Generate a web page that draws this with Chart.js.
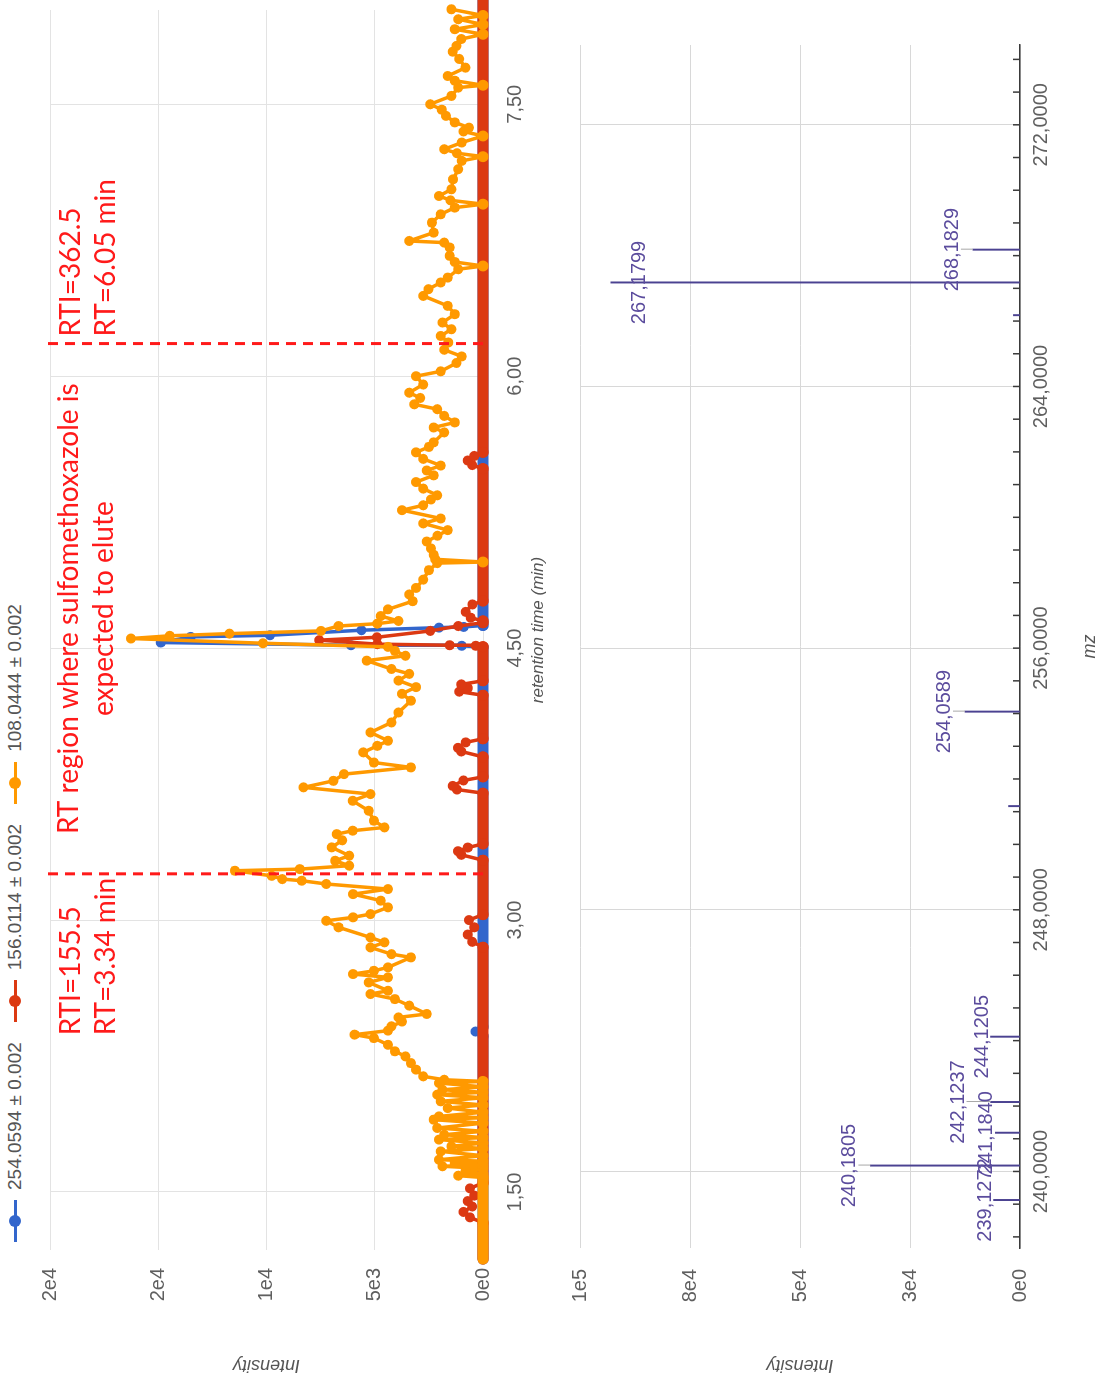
<!DOCTYPE html>
<html lang="en">
<head>
<meta charset="UTF-8">
<title>XIC and spectrum</title>
<script src="https://cdn.jsdelivr.net/npm/chart.js"></script>
<style>
    html, body {
        margin: 0;
        padding: 0;
        background: #ffffff;
        overflow: hidden;
    }
    body {
        width: 1104px;
        height: 1380px;
        position: relative;
        font-family: 'Liberation Sans', Arial, sans-serif;
    }
    /* the whole figure is drawn landscape, then turned a quarter to the left */
    .sheet {
        position: absolute;
        left: 0;
        top: 0;
        width: 1380px;
        height: 1104px;
        transform-origin: 0 0;
        transform: translate(0, 1380px) rotate(-90deg);
    }
    #xicChart { position: absolute; left: 0; top: 0; }
    #specChart { position: absolute; left: 0; top: 560px; }
    .legend {
        position: absolute;
        left: 138px;
        top: 3px;
        display: flex;
        gap: 20px;
        font-size: 19px;
        color: #555;
    }
    .legend .item { display: flex; align-items: center; white-space: nowrap; }
    .mark { position: relative; display: inline-block; width: 42px; height: 24px; margin-right: 10px; }
    .mark::before { content: ''; position: absolute; left: 0; right: 0; top: 10.5px; height: 3px; background: var(--c); }
    .mark::after { content: ''; position: absolute; left: 15px; top: 6px; width: 12px; height: 12px; border-radius: 50%; background: var(--c); }
</style>
</head>
<body>
<div class="sheet">
    <div class="legend" id="legend"></div>
    <canvas id="xicChart" width="1400" height="560"></canvas>
    <canvas id="specChart" width="1380" height="544"></canvas>
</div>

<script>
// ---- extracted ion chromatograms (retention time in min, intensity)
const rtTicks = [1.5, 3.0, 4.5, 6.0, 7.5];
const rtRange = [1.18, 8.02];
const xicTicks = [0, 5000, 10000, 15000, 20000];

const seriesNames = ['254.0594 ± 0.002', '156.0114 ± 0.002', '108.0444 ± 0.002'];

const ion254 = [
    [1.13, 0], [2.36, 0], [2.385, 350], [2.41, 0], [4.505, 0],
    [4.513, 980], [4.516, 6100], [4.531, 14880], [4.562, 13500], [4.571, 9840],
    [4.599, 5610], [4.613, 2030], [4.617, 890], [4.625, 0], [8.12, 0]
];

const ion156 = [
    [1.13, 0], [1.33, 0], [1.36, 600], [1.39, 900], [1.42, 500], [1.45, 700], [1.48, 400], [1.52, 600], [1.55, 0],
    [2.85, 0], [2.88, 500], [2.92, 700], [2.96, 400], [3.0, 650], [3.03, 0],
    [3.33, 0], [3.36, 1000], [3.38, 1150], [3.40, 700], [3.42, 0],
    [3.70, 0], [3.72, 1200], [3.74, 1400], [3.77, 900], [3.79, 0],
    [3.90, 0], [3.93, 1000], [3.95, 1150], [3.98, 800], [4.0, 0],
    [4.24, 0], [4.26, 1100], [4.28, 700], [4.30, 1000], [4.32, 0],
    [4.508, 0], [4.513, 330], [4.516, 1540], [4.522, 4880], [4.544, 7560], [4.56, 4900],
    [4.595, 2440], [4.622, 1140], [4.64, 0],
    [4.65, 0], [4.668, 570], [4.70, 800], [4.741, 490], [4.76, 0],
    [5.49, 0], [5.51, 500], [5.535, 700], [5.56, 400], [5.58, 0],
    [8.12, 0]
];

const ion108 = [
    [1.13, 0], [1.58, 0],
    [1.59, 1140], [1.60, 0], [1.614, 810], [1.63, 0], [1.642, 1870], [1.65, 0], [1.66, 1300], [1.67, 0],
    [1.678, 2030], [1.70, 0], [1.724, 1950], [1.74, 0], [1.752, 1460], [1.77, 0], [1.789, 2030], [1.80, 0],
    [1.816, 1790], [1.835, 0], [1.853, 2110], [1.88, 0], [1.899, 2280], [1.91, 0], [1.917, 2030], [1.94, 0],
    [1.963, 1630], [1.98, 0], [2.00, 1950], [2.02, 0], [2.037, 2110], [2.05, 0], [2.064, 1870], [2.08, 0],
    [2.101, 2030], [2.11, 0], [2.119, 1790],
    [2.138, 2760], [2.175, 3090], [2.211, 3330], [2.248, 3580], [2.276, 4070], [2.312, 4390], [2.349, 5040],
    [2.368, 5930], [2.39, 4390], [2.414, 4230], [2.44, 3740],
    [2.463, 3900], [2.482, 2600], [2.528, 3410], [2.564, 4070], [2.592, 5200], [2.61, 4390], [2.656, 5280],
    [2.684, 4390], [2.702, 6000], [2.72, 5040], [2.739, 4390], [2.794, 3330], [2.812, 4230], [2.849, 5200],
    [2.877, 4550], [2.904, 5200], [2.96, 6670], [2.996, 7240], [3.015, 6000], [3.033, 5200], [3.07, 4390],
    [3.107, 4720], [3.143, 6000], [3.171, 4390], [3.199, 7240], [3.217, 8370], [3.226, 9270], [3.244, 9760],
    [3.272, 11460], [3.281, 8460], [3.30, 6180], [3.327, 6830], [3.355, 6180], [3.401, 6990], [3.44, 6500],
    [3.474, 6750], [3.493, 6020], [3.511, 4550], [3.548, 5040], [3.603, 5280], [3.658, 6020], [3.695, 5200],
    [3.732, 8290], [3.768, 6910], [3.805, 6420], [3.842, 3330], [3.869, 5040], [3.925, 5530], [3.961, 4880],
    [3.989, 4390], [4.035, 5200], [4.09, 4230], [4.145, 3900], [4.21, 3330],
    [4.248, 3740], [4.285, 3090], [4.321, 3900], [4.358, 3410], [4.385, 4230], [4.431, 5370], [4.458, 3580],
    [4.485, 4070], [4.507, 4390], [4.527, 10160], [4.553, 16260], [4.568, 14470], [4.58, 11710], [4.595, 7480],
    [4.622, 6670], [4.635, 4880], [4.65, 3900], [4.677, 4720], [4.714, 4390], [4.759, 3250], [4.796, 3410],
    [4.832, 3090], [4.878, 2760], [4.93, 2500], [4.969, 2110], [4.975, 0], [4.99, 2200], [5.015, 2280],
    [5.05, 2400], [5.088, 2600], [5.12, 2100], [5.151, 1630], [5.188, 2760], [5.215, 1950], [5.261, 3740],
    [5.288, 2760], [5.32, 2400], [5.343, 2110], [5.38, 2760], [5.416, 3090], [5.453, 2280], [5.48, 2600],
    [5.507, 1950], [5.544, 2760], [5.58, 3090], [5.61, 2500], [5.635, 2280], [5.69, 1790], [5.717, 2280],
    [5.745, 1300], [5.781, 1790], [5.818, 2110], [5.845, 3170], [5.88, 2900], [5.909, 3410], [5.954, 2760],
    [6.0, 3090], [6.027, 1950], [6.073, 1220], [6.109, 980], [6.146, 1790], [6.186, 1600],
    [6.222, 1950], [6.259, 1460], [6.296, 1870], [6.342, 1300], [6.388, 1630], [6.443, 2760], [6.48, 2520],
    [6.517, 1950], [6.544, 1630], [6.59, 1140], [6.608, 0], [6.63, 1300], [6.664, 1540], [6.71, 1540],
    [6.737, 1790], [6.746, 3410], [6.792, 2280], [6.847, 2360], [6.893, 1950], [6.93, 1300], [6.949, 0],
    [6.97, 1500], [6.994, 2030], [7.031, 1460], [7.086, 1380], [7.142, 1140], [7.188, 980], [7.211, 0],
    [7.23, 1200], [7.252, 1790], [7.289, 980], [7.325, 0], [7.35, 900], [7.371, 650], [7.40, 1300],
    [7.436, 1710], [7.47, 1900], [7.50, 2440], [7.546, 1460], [7.592, 1140], [7.605, 0], [7.63, 1300],
    [7.656, 1630], [7.702, 810], [7.75, 1100], [7.79, 1400], [7.822, 1220], [7.86, 1000], [7.886, 0],
    [7.914, 1300], [7.94, 0], [7.969, 1140], [7.99, 0], [8.024, 1460], [8.04, 0], [8.06, 1140], [8.08, 0],
    [8.12, 0]
];

// annotation lines (min) and their notes
const rtMarkers = [3.255, 6.18];
const markerNotes = [['RTI=155.5', 'RT=3.34 min'], ['RTI=362.5', 'RT=6.05 min']];
const regionNote = ['RT region where sulfomethoxazole is', 'expected to elute'];

// ---- mass spectrum
const mzTicks = [240, 248, 256, 264, 272];
const mzRange = [237.66, 274.44];
const specTicks = [0, 25000, 50000, 75000, 100000];
const peakMz = [239.1272, 240.1805, 241.1840, 242.1237, 244.1205, 251.17, 254.0589, 266.18, 267.1799, 268.1829];
const peakIntensity = [6000, 34000, 5600, 6700, 6700, 2600, 12500, 1500, 93000, 10700];
const peakLabelled = [true, true, true, true, true, false, true, false, true, true];

const colors = ['#3366cc', '#dc3912', '#ff9900'];
const series = [ion254, ion156, ion108];

Chart.defaults.font.family = "'Liberation Sans', Arial, sans-serif";
Chart.defaults.color = '#5f5f5f';

function sciLabel(v) {
    return Number(v).toExponential(0).replace('+', '');
}
function commaFixed(v, d) {
    return Number(v).toFixed(d).replace('.', ',');
}

// legend
const legendEl = document.getElementById('legend');
seriesNames.forEach((name, i) => {
    const item = document.createElement('span');
    item.className = 'item';
    item.innerHTML = '<i class="mark" style="--c:' + colors[i] + '"></i>' + name;
    legendEl.appendChild(item);
});

const rtNotes = {
    id: 'rtNotes',
    afterDatasetsDraw(chart) {
        const {ctx, chartArea, scales: {x, y}} = chart;
        const xs = rtMarkers.map(v => x.getPixelForValue(v));
        ctx.save();
        ctx.strokeStyle = '#ff1a1a';
        ctx.lineWidth = 3;
        ctx.setLineDash([10, 7]);
        xs.forEach(px => {
            ctx.beginPath();
            ctx.moveTo(px, y.getPixelForValue(0));
            ctx.lineTo(px, chartArea.top - 4);
            ctx.stroke();
        });
        ctx.setLineDash([]);
        ctx.fillStyle = '#ff1a1a';
        ctx.font = "28px Lato, 'Open Sans', sans-serif";
        ctx.textBaseline = 'middle';
        const rows = [chartArea.top + 21, chartArea.top + 56];

        // left note sits against the first line
        const w0 = Math.max(...markerNotes[0].map(t => ctx.measureText(t).width));
        ctx.textAlign = 'left';
        markerNotes[0].forEach((t, k) => ctx.fillText(t, xs[0] - w0 - 4, rows[k]));
        // right note just after the second line
        markerNotes[1].forEach((t, k) => ctx.fillText(t, xs[1] + 7, rows[k]));
        // region note centred between them
        ctx.textAlign = 'center';
        regionNote.forEach((t, k) => ctx.fillText(t, (xs[0] + xs[1]) / 2, rows[k] - 2));
        ctx.restore();
    }
};

new Chart(document.getElementById('xicChart'), {
    type: 'line',
    data: {
        datasets: series.map((pts, i) => ({
            label: seriesNames[i],
            data: pts.map(p => ({x: p[0], y: p[1]})),
            borderColor: colors[i],
            backgroundColor: colors[i],
            pointBackgroundColor: colors[i],
            pointBorderWidth: 0,
            pointRadius: ctx => (ctx.raw && ctx.raw.y === 0) ? 5.5 : 5,
            borderWidth: 3.5,
            borderCapStyle: 'round',
            borderJoinStyle: 'round',
            segment: {
                borderWidth: ctx => (ctx.p0.parsed.y === 0 && ctx.p1.parsed.y === 0) ? 11 : 3.5
            },
            order: 3 - i,
            clip: false,
            tension: 0
        }))
    },
    options: {
        responsive: false,
        animation: false,
        devicePixelRatio: 1,
        layout: { padding: { top: 50, left: 0, right: 30, bottom: 0 } },
        plugins: { legend: { display: false }, tooltip: { enabled: false } },
        scales: {
            x: {
                type: 'linear',
                min: rtRange[0],
                max: rtRange[1],
                afterBuildTicks: s => { s.ticks = rtTicks.map(v => ({value: v})); },
                afterFit: s => { s.height = 77; },
                ticks: { callback: v => commaFixed(v, 2), font: { size: 20 }, padding: 20, maxRotation: 0, autoSkip: false },
                grid: { color: '#e3e3e3', drawTicks: false },
                border: { display: false },
                title: { display: true, text: 'retention time (min)', color: '#555', font: { size: 17, style: 'italic' }, padding: { top: 4, bottom: 12 } }
            },
            y: {
                min: 0,
                max: 20000,
                afterBuildTicks: s => { s.ticks = xicTicks.map(v => ({value: v})); },
                afterFit: s => { s.width = 130; s.paddingTop = 0; s.paddingBottom = 0; },
                ticks: { callback: sciLabel, font: { size: 20 }, padding: 18 },
                grid: { color: '#e3e3e3', drawTicks: false },
                border: { display: false },
                title: { display: true, text: 'Intensity', color: '#555', font: { size: 18, style: 'italic' }, padding: { top: 4, bottom: 4 } }
            }
        }
    },
    plugins: [rtNotes]
});

// small inward ticks on the m/z axis, one per unit
const mzMinorTicks = {
    id: 'mzMinorTicks',
    afterDraw(chart) {
        const {ctx, chartArea, scales: {x}} = chart;
        ctx.save();
        ctx.strokeStyle = '#3a3a3a';
        ctx.lineWidth = 1.5;
        for (let m = Math.ceil(x.min); m <= Math.floor(x.max); m++) {
            const px = x.getPixelForValue(m);
            ctx.beginPath();
            ctx.moveTo(px, chartArea.bottom);
            ctx.lineTo(px, chartArea.bottom - 7);
            ctx.stroke();
        }
        ctx.restore();
    }
};

const peakLabels = {
    id: 'peakLabels',
    afterDatasetsDraw(chart) {
        const {ctx, chartArea, scales: {x, y}} = chart;
        ctx.save();
        ctx.font = "20px 'Liberation Sans', Arial, sans-serif";
        ctx.textAlign = 'left';
        ctx.textBaseline = 'alphabetic';
        const h = 16;
        const placed = [];
        const idx = peakMz.map((m, i) => i).filter(i => peakLabelled[i]).sort((a, b) => peakMz[b] - peakMz[a]);
        idx.forEach(i => {
            const px = x.getPixelForValue(peakMz[i]);
            const top = y.getPixelForValue(peakIntensity[i]);
            const text = commaFixed(peakMz[i], 4);
            const w = ctx.measureText(text).width;
            let base = top - (peakIntensity[i] > 9000 ? 15 : 3);
            let inside = false;
            if (base - h < chartArea.top + 20) {
                base = top + h + 18;
                inside = true;
            }
            const box = {l: px - w / 2, r: px + w / 2, base: base};
            for (let guard = 0; guard < 6; guard++) {
                const hit = placed.find(b => box.l < b.r && box.r > b.l && box.base - h < b.base + 2 && box.base + 2 > b.base - h);
                if (!hit) break;
                const over = Math.min(box.r, hit.r) - Math.max(box.l, hit.l);
                if (over < 17) break;
                box.base -= 24;
            }
            placed.push(box);
            if (!inside && top - box.base > 6) {
                ctx.strokeStyle = '#a8a8a8';
                ctx.lineWidth = 1;
                ctx.beginPath();
                ctx.moveTo(px + 0.5, box.base + 3);
                ctx.lineTo(px + 0.5, top);
                ctx.stroke();
            }
            ctx.fillStyle = '#5b4c9d';
            ctx.fillText(text, box.l, box.base);
        });
        ctx.restore();
    }
};

new Chart(document.getElementById('specChart'), {
    type: 'bar',
    data: {
        datasets: [{
            label: 'spectrum',
            data: peakMz.map((m, i) => ({x: m, y: peakIntensity[i]})),
            backgroundColor: '#4b4291',
            barThickness: 1.3
        }]
    },
    options: {
        responsive: false,
        animation: false,
        devicePixelRatio: 1,
        layout: { padding: { top: 20, left: 0, right: 45, bottom: 0 } },
        plugins: { legend: { display: false }, tooltip: { enabled: false } },
        scales: {
            x: {
                type: 'linear',
                min: mzRange[0],
                max: mzRange[1],
                offset: false,
                afterBuildTicks: s => { s.ticks = mzTicks.map(v => ({value: v})); },
                afterFit: s => { s.height = 84; },
                ticks: { callback: v => commaFixed(v, 4), font: { size: 20 }, padding: 9, maxRotation: 0, autoSkip: false },
                grid: { color: '#d8d8d8', drawTicks: false, offset: false },
                border: { display: true, color: '#3a3a3a', width: 1.5 },
                title: { display: true, text: 'mz', color: '#555', font: { size: 18, style: 'italic' }, padding: { top: 2, bottom: 3 } }
            },
            y: {
                min: 0,
                max: 100000,
                afterBuildTicks: s => { s.ticks = specTicks.map(v => ({value: v})); },
                afterFit: s => { s.width = 132; s.paddingTop = 0; s.paddingBottom = 0; },
                ticks: { callback: sciLabel, font: { size: 20 }, padding: 21 },
                grid: { color: '#d8d8d8', drawTicks: false },
                border: { display: false },
                title: { display: true, text: 'Intensity', color: '#555', font: { size: 18, style: 'italic' }, padding: { top: 4, bottom: 4 } }
            }
        }
    },
    plugins: [mzMinorTicks, peakLabels]
});
</script>
</body>
</html>
